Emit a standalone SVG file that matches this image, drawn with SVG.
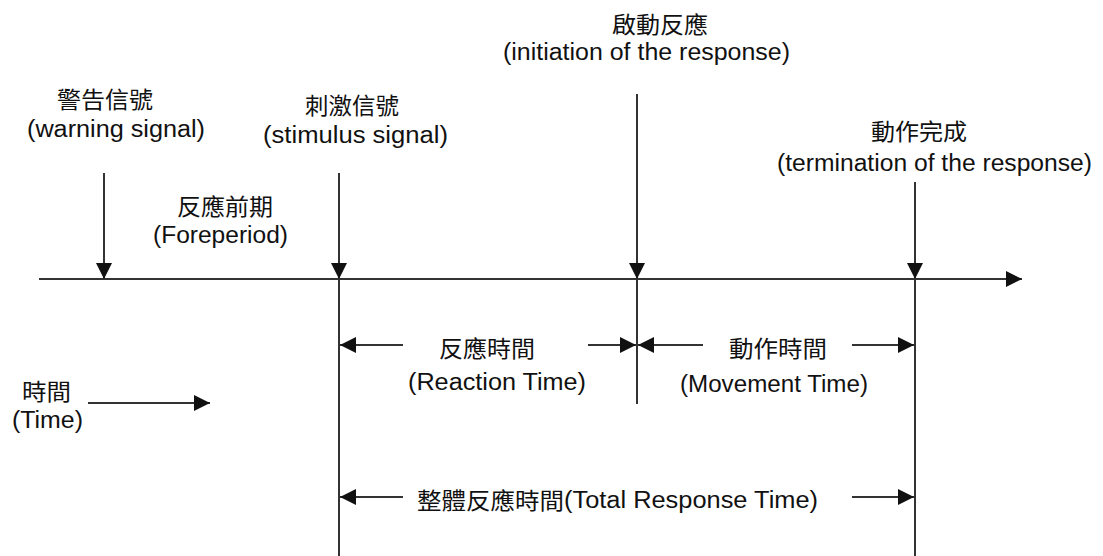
<svg xmlns="http://www.w3.org/2000/svg" width="1103" height="556" viewBox="0 0 1103 556">
<style>
.en{font-family:"Liberation Sans",Arial,sans-serif;font-size:23px;fill:#111}
.zh{font-family:"Noto Sans CJK TC","Noto Sans CJK SC",sans-serif;font-size:23px;fill:#111}
.ln{stroke:#333;stroke-width:2;fill:none}
</style>
<defs>
<marker id="ah" markerUnits="userSpaceOnUse" markerWidth="16" markerHeight="16" viewBox="0 0 16 16" refX="16" refY="8" orient="auto">
<path d="M0,0 L16,8 L0,16 Z" fill="#111"/>
</marker>
</defs>
<rect width="1103" height="556" fill="#fff"/>
<g id="connectors">
<line class="ln" x1="39" y1="279" x2="1022" y2="279" marker-end="url(#ah)"/>
<line class="ln" x1="104" y1="173" x2="104" y2="279" marker-end="url(#ah)"/>
<line class="ln" x1="339" y1="173" x2="339" y2="279" marker-end="url(#ah)"/>
<line class="ln" x1="339" y1="279" x2="339" y2="556"/>
<line class="ln" x1="637" y1="94" x2="637" y2="279" marker-end="url(#ah)"/>
<line class="ln" x1="637" y1="279" x2="637" y2="404"/>
<line class="ln" x1="915" y1="182" x2="915" y2="279" marker-end="url(#ah)"/>
<line class="ln" x1="915" y1="279" x2="915" y2="556"/>
<line class="ln" x1="403" y1="345" x2="340" y2="345" marker-end="url(#ah)"/>
<line class="ln" x1="588" y1="345" x2="636" y2="345" marker-end="url(#ah)"/>
<line class="ln" x1="703" y1="345" x2="638" y2="345" marker-end="url(#ah)"/>
<line class="ln" x1="852" y1="345" x2="914" y2="345" marker-end="url(#ah)"/>
<line class="ln" x1="403" y1="497" x2="340" y2="497" marker-end="url(#ah)"/>
<line class="ln" x1="852" y1="497" x2="914" y2="497" marker-end="url(#ah)"/>
<line class="ln" x1="88" y1="403" x2="210" y2="403" marker-end="url(#ah)"/>
</g>
<g id="warning">
<text class="zh" x="57" y="108" textLength="96" lengthAdjust="spacingAndGlyphs">警告信號</text>
<text class="en" x="27" y="137" textLength="178" lengthAdjust="spacingAndGlyphs">(warning signal)</text>
</g>
<g id="stimulus">
<text class="zh" x="305" y="114" textLength="94" lengthAdjust="spacingAndGlyphs">刺激信號</text>
<text class="en" x="263" y="143" textLength="185" lengthAdjust="spacingAndGlyphs">(stimulus signal)</text>
</g>
<g id="initiation">
<text class="zh" x="612" y="33" textLength="96" lengthAdjust="spacingAndGlyphs">啟動反應</text>
<text class="en" x="503" y="60" textLength="287" lengthAdjust="spacingAndGlyphs">(initiation of the response)</text>
</g>
<g id="termination">
<text class="zh" x="871" y="140" textLength="96" lengthAdjust="spacingAndGlyphs">動作完成</text>
<text class="en" x="777" y="171" textLength="315" lengthAdjust="spacingAndGlyphs">(termination of the response)</text>
</g>
<g id="foreperiod">
<text class="zh" x="177" y="215" textLength="96" lengthAdjust="spacingAndGlyphs">反應前期</text>
<text class="en" x="153" y="243" textLength="135" lengthAdjust="spacingAndGlyphs">(Foreperiod)</text>
</g>
<g id="time">
<text class="zh" x="22" y="400" textLength="49" lengthAdjust="spacingAndGlyphs">時間</text>
<text class="en" x="12" y="428" textLength="71" lengthAdjust="spacingAndGlyphs">(Time)</text>
</g>
<g id="reaction">
<text class="zh" x="439" y="357" textLength="96" lengthAdjust="spacingAndGlyphs">反應時間</text>
<text class="en" x="408" y="390" textLength="178" lengthAdjust="spacingAndGlyphs">(Reaction Time)</text>
</g>
<g id="movement">
<text class="zh" x="729" y="357" textLength="98" lengthAdjust="spacingAndGlyphs">動作時間</text>
<text class="en" x="680" y="392" textLength="188" lengthAdjust="spacingAndGlyphs">(Movement Time)</text>
</g>
<g id="total">
<text class="zh" x="417" y="509" textLength="147" lengthAdjust="spacingAndGlyphs">整體反應時間</text>
<text class="en" x="564" y="508" textLength="254" lengthAdjust="spacingAndGlyphs">(Total Response Time)</text>
</g>
</svg>
